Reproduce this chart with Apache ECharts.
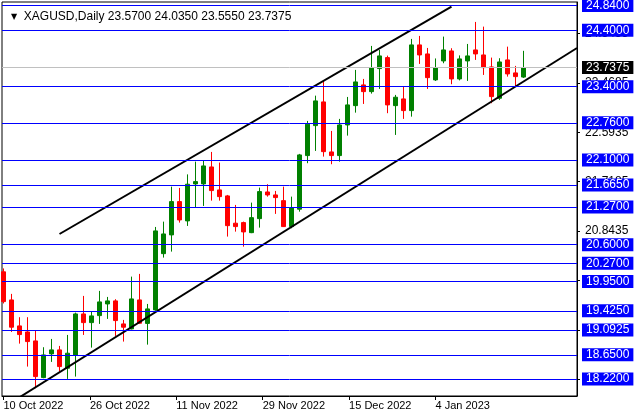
<!DOCTYPE html>
<html><head><meta charset="utf-8">
<script src="https://cdn.jsdelivr.net/npm/echarts@6/dist/echarts.min.js"></script>
<style>html,body{margin:0;padding:0;background:#fff}#c{width:640px;height:420px}</style>
</head><body><div id="c"></div>
<script>
const symbolName = 'XAGUSD';
const timeframe = 'Daily';
const opens  = [20.12,19.622,19.162,19.055,18.896,18.246,18.666,18.737,18.412,18.648,19.374,19.220,19.344,19.551,19.605,19.197,19.109,19.622,19.206,19.445,20.442,20.774,21.364,21.022,21.677,21.677,21.978,21.571,21.465,20.981,20.992,20.814,21.062,21.535,21.482,21.381,20.921,21.229,22.179,22.710,23.130,22.244,22.179,22.722,23.064,23.431,23.312,23.720,23.915,23.064,23.183,22.976,24.140,23.980,23.520,23.856,24.033,23.537,23.856,24.051,23.962,23.750,23.195,23.874,23.644,23.570];
const highs  = [20.18,19.729,19.316,19.316,19.078,18.784,18.931,18.807,19.002,19.397,19.693,19.415,19.782,19.675,19.635,19.268,20.035,20.083,19.551,20.915,21.009,21.629,21.606,21.846,22.072,22.085,22.244,22.055,21.482,21.305,21.009,21.346,21.612,21.672,21.553,21.629,21.452,22.209,22.793,23.241,23.514,22.616,22.829,23.218,23.697,23.537,24.122,24.051,23.950,23.254,23.401,24.246,24.299,24.086,23.900,24.287,24.081,23.954,24.157,24.547,24.464,23.915,23.904,24.109,23.768,24.035];
const lows   = [19.56,19.055,18.848,18.441,18.058,18.235,18.524,18.352,18.223,18.264,19.002,18.777,19.197,19.286,18.984,18.884,19.100,19.200,18.830,19.430,20.372,20.478,20.992,20.933,21.264,21.287,21.381,21.381,20.744,20.832,20.566,20.805,20.903,21.452,21.146,20.915,20.892,21.186,22.044,22.262,22.161,22.026,22.072,22.533,22.940,23.094,23.277,23.360,22.930,22.545,22.829,22.869,23.803,23.360,23.502,23.815,23.443,23.511,23.502,23.874,23.608,23.107,23.165,23.578,23.413,23.555];
const closes = [19.592,19.139,19.008,18.884,18.264,18.648,18.737,18.441,18.678,19.374,19.220,19.339,19.587,19.605,19.256,19.139,19.640,19.209,19.463,20.845,20.791,21.364,21.039,21.672,21.718,21.996,21.559,21.452,20.938,20.921,20.827,21.080,21.541,21.482,21.435,20.921,21.257,22.191,22.735,23.148,22.249,22.179,22.722,23.077,23.484,23.312,23.737,23.945,23.077,23.213,22.976,24.140,23.962,23.560,23.732,24.051,23.537,23.892,23.945,23.980,23.737,23.224,23.838,23.626,23.578,23.7375];
const dateLabels = ['10 Oct 2022','26 Oct 2022','11 Nov 2022','29 Nov 2022','15 Dec 2022','4 Jan 2023'];
const levels = [24.84,24.40,23.40,22.76,22.10,21.665,21.27,20.60,20.27,19.95,19.425,19.0925,18.65,18.22];
const scaleTicks = [18.2185,19.0935,19.9685,20.8435,21.7185,22.5935,23.4685,24.3435];
const upperTrend = [[7,20.79],[56,24.82]];
const lowerTrendAnchors = [[2,17.897],[60,23.047]];

const DATE_STEP = 10.8;          // bars between date labels
const X_MIN = -0.1875, X_MAX = 71.6875;
const Y_MIN = 17.92, Y_MAX = 24.90;

const candles = opens.map((o,i)=>[i,o,closes[i],lows[i],highs[i]]);
const last = opens.length-1;
const f4 = v => v.toFixed(4);
const slope = (lowerTrendAnchors[1][1]-lowerTrendAnchors[0][1])/(lowerTrendAnchors[1][0]-lowerTrendAnchors[0][0]);
const lowerTrend = [lowerTrendAnchors[0],[X_MAX, lowerTrendAnchors[0][1]+slope*(X_MAX-lowerTrendAnchors[0][0])]];
const dateTickVals = dateLabels.map((_,i)=>i*DATE_STEP);
const lineValues = [...levels, closes[last]];
const FONT = 'Liberation Sans';

const chart = echarts.init(document.getElementById('c'), null, {renderer:'canvas'});
chart.setOption({
  animation:false,
  backgroundColor:'#fff',
  title:{
    left:6, top:6,
    text:`{tri|▼}  ${symbolName},${timeframe} ${f4(opens[last])} ${f4(highs[last])} ${f4(lows[last])} ${f4(closes[last])}`,
    textStyle:{fontSize:12,fontWeight:'normal',color:'#000',fontFamily:FONT,
      rich:{tri:{fontSize:8,fontFamily:'DejaVu Sans',color:'#000'}}}
  },
  grid:{left:2,top:2,right:63,bottom:24,show:true,borderColor:'#000',borderWidth:1,backgroundColor:'#fff',outerBoundsMode:'none'},
  xAxis:{
    type:'value', min:X_MIN, max:X_MAX,
    axisLine:{show:true,onZero:false,lineStyle:{color:'#000',width:1}},
    axisTick:{show:true,customValues:dateTickVals,length:4,lineStyle:{color:'#000'}},
    axisLabel:{customValues:dateTickVals,align:'left',margin:4,fontSize:11,fontFamily:FONT,color:'#000',
      formatter:v=>dateLabels[Math.round(v/DATE_STEP)]||''},
    splitLine:{show:false}
  },
  yAxis:{
    type:'value', position:'right', min:Y_MIN, max:Y_MAX,
    axisLine:{show:true,onZero:false,lineStyle:{color:'#000',width:1}},
    axisTick:{show:true,customValues:scaleTicks,length:3,lineStyle:{color:'#000'}},
    axisLabel:{customValues:scaleTicks,margin:8,fontSize:12,fontFamily:FONT,color:'#000',formatter:v=>f4(v)},
    splitLine:{show:false}
  },
  series:[
    {
      type:'candlestick', data:candles, barWidth:4,
      itemStyle:{color:'#008000',color0:'#FF0000',borderColor:'#008000',borderColor0:'#FF0000',borderWidth:1},
      markLine:{
        symbol:'none', silent:true, animation:false,
        lineStyle:{color:'#0000FF',width:1,type:'solid'},
        label:{show:true,position:'end',distance:5,formatter:p=>f4(lineValues[p.dataIndex]),color:'#fff',backgroundColor:'#0000FF',
          padding:[1,4,0,4],fontSize:12,lineHeight:12,fontFamily:FONT},
        data:[...levels.map(v=>({yAxis:v})),
          {yAxis:closes[last],lineStyle:{color:'#C0C0C0'},label:{backgroundColor:'#000'}}]
      }
    },
    {type:'line',data:upperTrend,symbol:'none',lineStyle:{color:'#000',width:2},silent:true},
    {type:'line',data:lowerTrend,symbol:'none',lineStyle:{color:'#000',width:2},silent:true,clip:true}
  ]
});
</script></body></html>
